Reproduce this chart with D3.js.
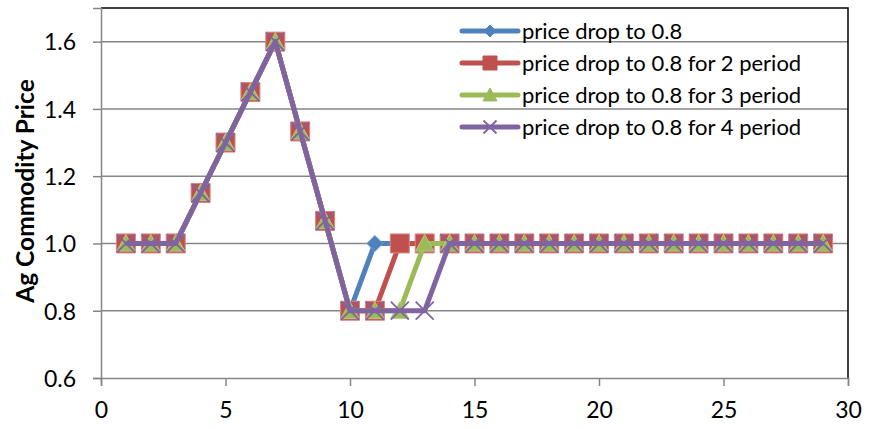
<!DOCTYPE html>
<html>
<head>
<meta charset="utf-8">
<script src="https://cdn.jsdelivr.net/npm/d3@7"></script>
<style>
  html, body { margin: 0; padding: 0; background: #fff; }
  svg { display: block; }
  text { font-family: Lato, "Open Sans", "DejaVu Sans", sans-serif; fill: #000; }
</style>
</head>
<body>
<svg id="chart" width="873" height="429"></svg>
<script>
// Period index 1..29
const periods = d3.range(1, 30);

// Price paths for each scenario
const dropOnce   = [1, 1, 1, 1.15, 1.3, 1.45, 1.6, 1.333, 1.067, 0.8, 1, 1, 1, 1, 1, 1, 1, 1, 1, 1, 1, 1, 1, 1, 1, 1, 1, 1, 1];
const dropTwo    = [1, 1, 1, 1.15, 1.3, 1.45, 1.6, 1.333, 1.067, 0.8, 0.8, 1, 1, 1, 1, 1, 1, 1, 1, 1, 1, 1, 1, 1, 1, 1, 1, 1, 1];
const dropThree  = [1, 1, 1, 1.15, 1.3, 1.45, 1.6, 1.333, 1.067, 0.8, 0.8, 0.8, 1, 1, 1, 1, 1, 1, 1, 1, 1, 1, 1, 1, 1, 1, 1, 1, 1];
const dropFour   = [1, 1, 1, 1.15, 1.3, 1.45, 1.6, 1.333, 1.067, 0.8, 0.8, 0.8, 0.8, 1, 1, 1, 1, 1, 1, 1, 1, 1, 1, 1, 1, 1, 1, 1, 1];

const seriesNames = [
  "price drop to 0.8",
  "price drop to 0.8 for 2 period",
  "price drop to 0.8 for 3 period",
  "price drop to 0.8 for 4 period"
];
const seriesValues = [dropOnce, dropTwo, dropThree, dropFour];
const seriesColors = ["#4F81BD", "#C0504D", "#9BBB59", "#8064A2"];
const seriesEdges  = ["#6f9bd1", "#d98583", "#b3cc82", "#9b86b8"];
const seriesMarkers = ["diamond", "square", "triangle", "cross"];

const xTicks = [0, 5, 10, 15, 20, 25, 30];
const yTicks = [0.6, 0.8, 1.0, 1.2, 1.4, 1.6];
const yTitle = "Ag Commodity Price";

const svg = d3.select("#chart");
const plotLeft = 101, plotRight = 848, plotTop = 8, plotBottom = 378;

const x = d3.scaleLinear().domain([0, 30]).range([plotLeft, plotRight]);
const y = d3.scaleLinear().domain([0.6, 1.7]).range([plotBottom, plotTop]);

// Horizontal gridlines
svg.append("g").selectAll("line")
  .data(yTicks.filter(t => t > 0.6))
  .join("line")
  .attr("x1", plotLeft).attr("x2", plotRight)
  .attr("y1", d => y(d)).attr("y2", d => y(d))
  .attr("stroke", "#868686").attr("stroke-width", 1.5);

// Plot frame (top and right edges)
svg.append("path")
  .attr("d", `M${plotLeft},${plotTop}H${plotRight}V${plotBottom}`)
  .attr("fill", "none").attr("stroke", "#000").attr("stroke-width", 1.5);

// Axes
const xAxis = d3.axisBottom(x).tickValues(xTicks).tickSize(8).tickPadding(16).tickFormat(d3.format("d"));
const gx = svg.append("g").attr("transform", `translate(0,${plotBottom})`).call(xAxis);
const yAxis = d3.axisLeft(y).tickValues(yTicks).tickSize(8).tickPadding(17).tickFormat(d3.format(".1f"));
const gy = svg.append("g").attr("transform", `translate(${plotLeft},0)`).call(yAxis);
[gx, gy].forEach(g => {
  g.select(".domain").attr("stroke", "#868686").attr("stroke-width", 1.5);
  g.selectAll(".tick line").attr("stroke", "#868686").attr("stroke-width", 1.5);
  g.selectAll(".tick text").attr("font-size", 23).attr("fill", "#000")
    .style("font-family", "Lato, 'Open Sans', sans-serif");
});
gy.selectAll(".tick text").attr("dy", "0.36em");

// Y axis title
svg.append("text")
  .attr("transform", `translate(34,191) rotate(-90)`)
  .attr("text-anchor", "middle")
  .attr("font-size", 24.5).attr("font-weight", "bold")
  .text(yTitle);

// Marker shapes
function markerPath(kind, s) {
  if (kind === "diamond") return `M0,${-s}L${s},0L0,${s}L${-s},0Z`;
  if (kind === "square") return `M${-s},${-s}H${s}V${s}H${-s}Z`;
  if (kind === "triangle") return `M0,${-s}L${s},${s * 0.85}H${-s}Z`;
  return `M${-s},${-s}L${s},${s}M${s},${-s}L${-s},${s}`;
}
const markerSize = { diamond: 8, square: 9.5, triangle: 9, cross: 9 };

const line = d3.line().x(d => x(d[0])).y(d => y(d[1]));

seriesValues.forEach((vals, i) => {
  const pts = periods.map((p, k) => [p, vals[k]]);
  const g = svg.append("g");
  g.append("path").datum(pts)
    .attr("d", line)
    .attr("fill", "none")
    .attr("stroke", seriesColors[i])
    .attr("stroke-width", 5)
    .attr("stroke-linejoin", "round");
  const kind = seriesMarkers[i];
  g.selectAll("path.m").data(pts).join("path")
    .attr("class", "m")
    .attr("transform", d => `translate(${x(d[0])},${y(d[1])})`)
    .attr("d", markerPath(kind, markerSize[kind]))
    .attr("fill", kind === "cross" ? "none" : seriesColors[i])
    .attr("stroke", kind === "cross" ? seriesColors[i] : seriesEdges[i])
    .attr("stroke-width", kind === "cross" ? 1.8 : 1);
});

// Legend
const legendX = 462, legendRowY = [31, 63, 95, 127];
const legend = svg.append("g");
seriesNames.forEach((name, i) => {
  const rowY = legendRowY[i];
  const row = legend.append("g").attr("transform", `translate(0,${rowY})`);
  row.append("line")
    .attr("x1", legendX).attr("x2", legendX + 56)
    .attr("stroke", seriesColors[i]).attr("stroke-width", 5).attr("stroke-linecap", "round");
  const kind = seriesMarkers[i];
  const ls = { diamond: 6, square: 7, triangle: 7, cross: 6.5 }[kind];
  row.append("path")
    .attr("transform", `translate(${legendX + 28},0)`)
    .attr("d", markerPath(kind, ls))
    .attr("fill", kind === "cross" ? "none" : seriesColors[i])
    .attr("stroke", seriesColors[i])
    .attr("stroke-width", kind === "cross" ? 1.8 : 1);
  row.append("text")
    .attr("x", legendX + 60).attr("y", 0).attr("dy", "0.35em")
    .attr("font-size", 22)
    .text(name);
});
</script>
</body>
</html>
